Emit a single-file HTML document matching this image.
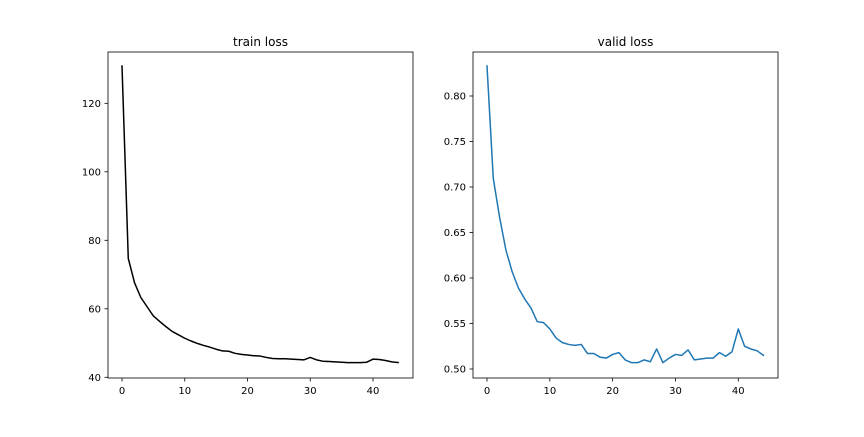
<!DOCTYPE html>
<html><head><meta charset="utf-8"><style>
html,body{margin:0;padding:0;background:#fff;}
svg text{font-family:"DejaVu Sans","Liberation Sans",sans-serif;}
</style></head>
<body>
<svg id="fig" width="864" height="432" viewBox="0 0 864 432" xmlns="http://www.w3.org/2000/svg">
<rect width="864" height="432" fill="#fff"/>
</svg>
<script>
const epochs = Array.from({length:45},(_,i)=>i);
const trainLoss = [130.9,74.7,67.6,63.3,60.6,57.9,56.3,54.8,53.4,52.4,51.4,50.6,49.9,49.3,48.8,48.2,47.7,47.6,47.0,46.7,46.5,46.3,46.2,45.8,45.5,45.4,45.4,45.3,45.2,45.1,45.8,45.1,44.7,44.6,44.5,44.4,44.3,44.3,44.3,44.4,45.3,45.2,44.9,44.5,44.3];
const validLoss = [0.833,0.7095,0.667,0.631,0.607,0.589,0.577,0.567,0.552,0.551,0.544,0.534,0.529,0.527,0.526,0.527,0.517,0.517,0.513,0.512,0.516,0.518,0.510,0.507,0.507,0.510,0.508,0.522,0.507,0.512,0.516,0.515,0.521,0.510,0.511,0.512,0.512,0.518,0.514,0.519,0.544,0.525,0.522,0.520,0.515];
const xTicks = [0,10,20,30,40];
const trainYTicks = [40,60,80,100,120];
const validYTicks = [0.50,0.55,0.60,0.65,0.70,0.75,0.80];

const NS="http://www.w3.org/2000/svg";
const svg=document.getElementById('fig');
function mk(tag,attrs,parent){const e=document.createElementNS(NS,tag);for(const k in attrs)e.setAttribute(k,attrs[k]);(parent||svg).appendChild(e);return e;}

function panel(cfg){
  const g=mk('g',{});
  
  
  const xs=v=>cfg.x0+(v-0)*(cfg.x40-cfg.x0)/40;
  const ys=v=>cfg.py0+(v-cfg.v0)*(cfg.py1-cfg.py0)/(cfg.v1-cfg.v0);
  // line
  const d=epochs.map((e,i)=>(i?'L':'M')+xs(e).toFixed(2)+' '+ys(cfg.data[i]).toFixed(2)).join(' ');
  const p=mk('path',{d:d,fill:'none',stroke:cfg.color,'stroke-width':1.5,'stroke-linejoin':'round','stroke-linecap':'square'},g);
  
  
  // frame
  const fr=mk('rect',{x:cfg.L,y:cfg.T,width:cfg.R-cfg.L,height:cfg.B-cfg.T,fill:'none',stroke:'#000','stroke-width':0.8},g);
  
  
  // x ticks
  xTicks.forEach(t=>{
    const x=xs(t);
    mk('line',{x1:x,x2:x,y1:cfg.B,y2:cfg.B+3.5,stroke:'#000','stroke-width':0.8},g);
    const tx=mk('text',{x:x,y:cfg.B+16,'font-size':10,'text-anchor':'middle',fill:'#000'},g);
    tx.textContent=t;
    
    
  });
  cfg.yt.forEach(t=>{
    const y=ys(t);
    mk('line',{x1:cfg.L-3.5,x2:cfg.L,y1:y,y2:y,stroke:'#000','stroke-width':0.8},g);
    const tx=mk('text',{x:cfg.L-7,y:y+3.5,'font-size':10,'text-anchor':'end',fill:'#000'},g);
    tx.textContent=cfg.fmt(t);
    
    
  });
  const ti=mk('text',{x:(cfg.L+cfg.R)/2,y:46,'font-size':12,'text-anchor':'middle',fill:'#000'},g);
  ti.textContent=cfg.title;
  
  
}
panel({name:'train-loss-chart',title:'train loss',data:trainLoss,color:'#000',L:108,R:413,T:52,B:378,x0:122,x40:373,v0:40,v1:120,py0:377.3,py1:103.3,yt:trainYTicks,fmt:t=>String(t)});
panel({name:'valid-loss-chart',title:'valid loss',data:validLoss,color:'#1f77b4',L:473,R:778,T:52,B:378,x0:487,x40:738.3,v0:0.5,v1:0.8,py0:369,py1:96,yt:validYTicks,fmt:t=>t.toFixed(2)});
</script>
</body></html>
